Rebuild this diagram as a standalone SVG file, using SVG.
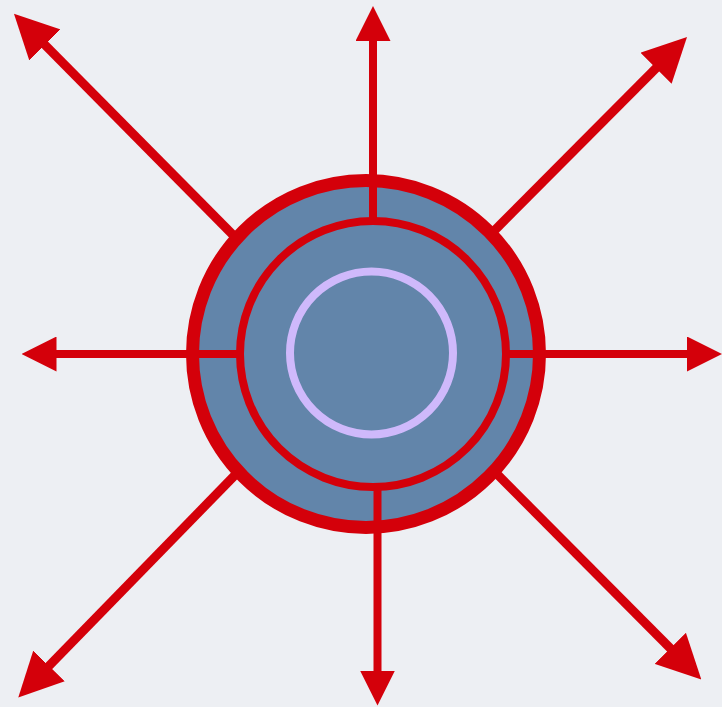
<svg xmlns="http://www.w3.org/2000/svg" width="722" height="707" viewBox="0 0 722 707">
  <style>
    .ln { stroke: #d4000a; fill: none; }
    .orth { stroke-width: 8; }
    .diag { stroke-width: 9; }
    .ring { fill: none; stroke: #d4000a; }
  </style>
  <defs>
    <marker id="ah" markerUnits="userSpaceOnUse" viewBox="0 0 35 35" markerWidth="35" markerHeight="35" refX="1" refY="17.5" orient="auto">
      <path d="M0,0 L35,17.5 L0,35 Z" fill="#d4000a"/>
    </marker>
    <marker id="ahd" markerUnits="userSpaceOnUse" viewBox="0 0 44 44" markerWidth="44" markerHeight="44" refX="1" refY="22" orient="auto">
      <path d="M0,0 L44,22 L0,44 Z" fill="#d4000a"/>
    </marker>
  </defs>
  <rect width="722" height="707" fill="#edeff3"/>

  <g id="hub">
    <circle cx="366" cy="354" r="173.5" fill="#6285aa" stroke="#d4000a" stroke-width="13"/>
    <circle class="ring" cx="373" cy="354" r="133" stroke-width="8"/>
    <circle cx="371.5" cy="353" r="81.5" fill="none" stroke="#cfb9fb" stroke-width="8"/>
  </g>

  <g id="connectors">
    <line class="ln orth" x1="373" y1="222" x2="373" y2="40" marker-end="url(#ah)"/>
    <line class="ln orth" x1="377.5" y1="486" x2="377.5" y2="671.5" marker-end="url(#ah)"/>
    <line class="ln orth" x1="240" y1="354" x2="55.5" y2="354" marker-end="url(#ah)"/>
    <line class="ln orth" x1="506" y1="354" x2="688" y2="354" marker-end="url(#ah)"/>
    <line class="ln diag" x1="236" y1="238" x2="44.2" y2="44.2" marker-end="url(#ahd)"/>
    <line class="ln diag" x1="492" y1="233" x2="656.7" y2="67.5" marker-end="url(#ahd)"/>
    <line class="ln diag" x1="238" y1="472" x2="48.3" y2="666.7" marker-end="url(#ahd)"/>
    <line class="ln diag" x1="495" y1="472" x2="671" y2="649" marker-end="url(#ahd)"/>
  </g>
</svg>
